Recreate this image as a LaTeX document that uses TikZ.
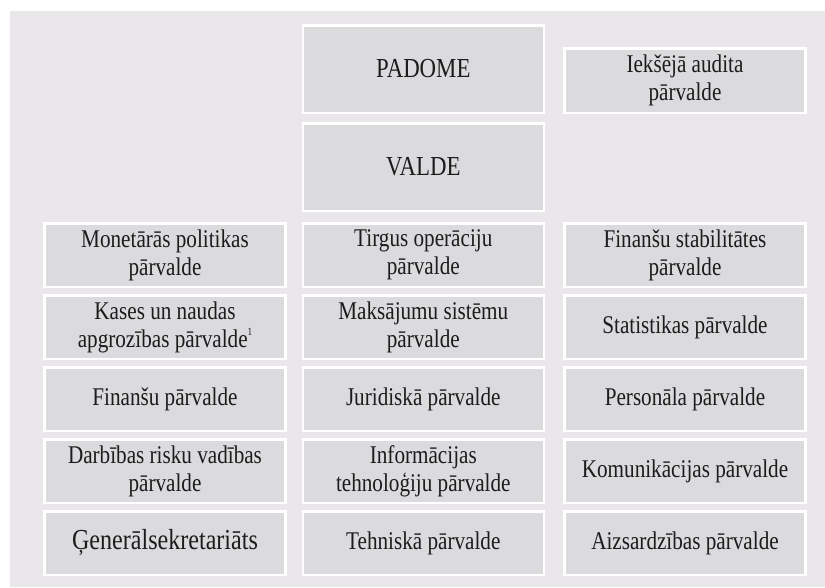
\documentclass[tikz,border=0pt]{standalone}
\usepackage{fontspec}
\setmainfont{Liberation Serif}[FakeStretch=0.83]
\usepackage{tikz}
\definecolor{bggray}{RGB}{233,231,234}
\definecolor{boxgray}{RGB}{219,218,221}
\definecolor{txtgray}{RGB}{30,27,28}
\newcommand{\footmark}[1]{\raisebox{0.95ex}{\fontsize{11}{11}\selectfont #1}}

\begin{document}
\begin{tikzpicture}[x=1pt,y=-1pt]
        \tikzstyle{unit} = [draw=white, line width=2.5pt, fill=boxgray, text=txtgray,
        minimum width=241pt, minimum height=63.5pt, inner sep=2pt, align=center,
        font=\fontsize{25.5}{28}\selectfont]
        \tikzstyle{board} = [unit, minimum height=87.5pt, font=\fontsize{27.5}{30}\selectfont]

        % background
        \fill[white] (0,0) rectangle (825,587);
        \fill[bggray] (10,11) rectangle (825,587);

        \node[board] (padome) at (423.3,69) {PADOME};
        \node[unit, minimum height=64.5pt] (audit) at (685,80.5) {Iekšējā audita\\pārvalde};
        \node[board] (valde) at (423.3,167) {VALDE};

        \node[unit] (monet) at (165,255) {Monetārās politikas\\pārvalde};
        \node[unit] (tirgus) at (423.3,255) {Tirgus operāciju\\pārvalde};
        \node[unit] (stab) at (685,255) {Finanšu stabilitātes\\pārvalde};

        \node[unit] (kases) at (165,327) {Kases un naudas\\apgrozības pārvalde\footmark{1}};
        \node[unit] (maks) at (423.3,327) {Maksājumu sistēmu\\pārvalde};
        \node[unit] (stat) at (685,327) {Statistikas pārvalde};

        \node[unit] (fin) at (165,399) {Finanšu pārvalde};
        \node[unit] (jur) at (423.3,399) {Juridiskā pārvalde};
        \node[unit] (pers) at (685,399) {Personāla pārvalde};

        \node[unit] (risk) at (165,471) {Darbības risku vadības\\pārvalde};
        \node[unit] (it) at (423.3,471) {Informācijas\\tehnoloģiju pārvalde};
        \node[unit] (kom) at (685,471) {Komunikācijas pārvalde};

        \node[unit, font=\fontsize{29}{32}\selectfont] (gensek) at (165,543) {Ģenerālsekretariāts};
        \node[unit] (tehn) at (423.3,543) {Tehniskā pārvalde};
        \node[unit] (aizs) at (685,543) {Aizsardzības pārvalde};
      \end{tikzpicture}
\end{document}
